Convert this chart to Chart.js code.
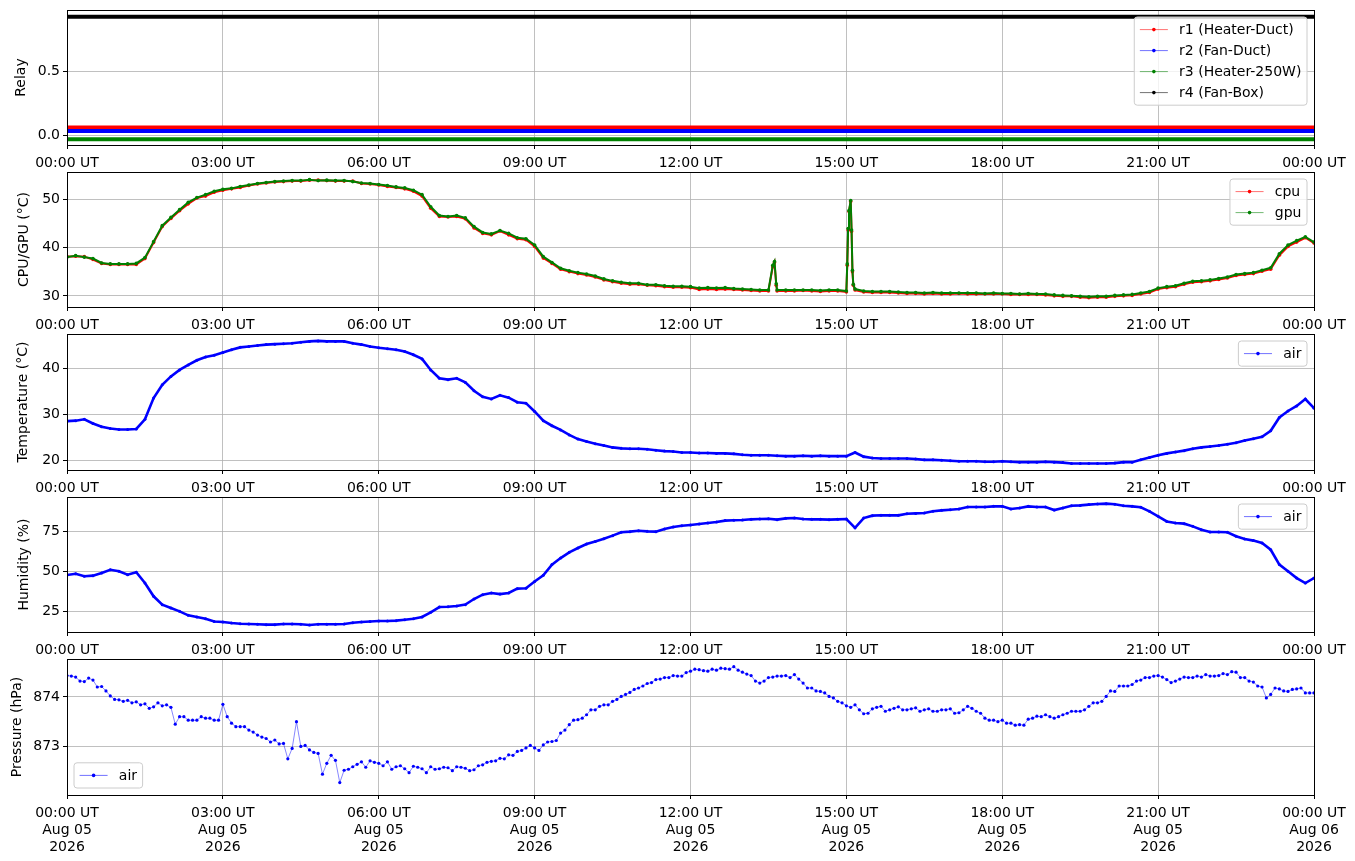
<!DOCTYPE html>
<html>
<head>
<meta charset="utf-8">
<script src="https://cdn.jsdelivr.net/npm/chart.js@4.4.0/dist/chart.umd.min.js"></script>
<style>
  html, body { margin: 0; padding: 0; background: #fff; }
  #wrap { position: relative; width: 1355px; height: 861px; overflow: hidden; }
  #wrap canvas { position: absolute; left: 0; }
</style>
</head>
<body>
<div id="wrap"></div>
<script>
// sample times in minutes after 00:00 UT, Aug 05 2026
const tGrid = [
  0, 10, 20, 30, 40, 50, 60, 70, 80, 90, 100, 110,
  120, 130, 140, 150, 160, 170, 180, 190, 200, 210, 220, 230,
  240, 250, 260, 270, 280, 290, 300, 310, 320, 330, 340, 350,
  360, 370, 380, 390, 400, 410, 420, 430, 440, 450, 460, 470,
  480, 490, 500, 510, 520, 530, 540, 550, 560, 570, 580, 590,
  600, 610, 620, 630, 640, 650, 660, 670, 680, 690, 700, 710,
  720, 730, 740, 750, 760, 770, 780, 790, 800, 810, 820, 830,
  840, 850, 860, 870, 880, 890, 900, 910, 920, 930, 940, 950,
  960, 970, 980, 990, 1000, 1010, 1020, 1030, 1040, 1050, 1060, 1070,
  1080, 1090, 1100, 1110, 1120, 1130, 1140, 1150, 1160, 1170, 1180, 1190,
  1200, 1210, 1220, 1230, 1240, 1250, 1260, 1270, 1280, 1290, 1300, 1310,
  1320, 1330, 1340, 1350, 1360, 1370, 1380, 1390, 1400, 1410, 1420, 1430,
  1440
];

// relay states (offset so the four traces do not overlap)
const tRelay = [0, 1440];
const r1 = [0.065, 0.065];
const r2 = [0.037, 0.037];
const r3 = [-0.027, -0.027];
const r4 = [0.928, 0.928];

// cpu/gpu have extra samples around the two short spikes
const tCpu = [
  0, 10, 20, 30, 40, 50, 60, 70, 80, 90, 100, 110,
  120, 130, 140, 150, 160, 170, 180, 190, 200, 210, 220, 230,
  240, 250, 260, 270, 280, 290, 300, 310, 320, 330, 340, 350,
  360, 370, 380, 390, 400, 410, 420, 430, 440, 450, 460, 470,
  480, 490, 500, 510, 520, 530, 540, 550, 560, 570, 580, 590,
  600, 610, 620, 630, 640, 650, 660, 670, 680, 690, 700, 710,
  720, 730, 740, 750, 760, 770,
  780, 790, 800, 810, 815, 817, 819, 820, 830,
  840, 850, 860, 870, 880, 890,
  900, 901, 902, 903, 905, 906, 907, 908, 910, 920, 930, 940, 950,
  960, 970, 980, 990, 1000, 1010, 1020, 1030, 1040, 1050, 1060, 1070,
  1080, 1090, 1100, 1110, 1120, 1130, 1140, 1150, 1160, 1170, 1180, 1190,
  1200, 1210, 1220, 1230, 1240, 1250, 1260, 1270, 1280, 1290, 1300, 1310,
  1320, 1330, 1340, 1350, 1360, 1370, 1380, 1390, 1400, 1410, 1420, 1430,
  1440
];
const cpu = [
  38.1, 38.2, 38.1, 37.5, 36.7, 36.5,
  36.5, 36.5, 36.5, 37.7, 41.0, 44.3,
  46.0, 47.6, 49.0, 50.2, 50.6, 51.4,
  51.8, 52.1, 52.4, 52.8, 53.1, 53.3,
  53.5, 53.6, 53.7, 53.7, 53.9, 53.9,
  53.8, 53.7, 53.7, 53.7, 53.2, 53.1,
  52.9, 52.6, 52.4, 52.1, 51.6, 50.6,
  48.1, 46.4, 46.3, 46.4, 45.9, 44.0,
  42.9, 42.6, 43.4, 42.6, 41.8, 41.6,
  40.2, 37.8, 36.7, 35.5, 35.0, 34.6,
  34.3, 33.9, 33.3, 32.9, 32.6, 32.4,
  32.4, 32.2, 32.1, 31.9, 31.8, 31.8,
  31.7, 31.3, 31.4, 31.3, 31.4, 31.3,
  31.2, 31.1, 31.0, 31.0, 36.0, 36.9, 32.2, 31.0, 31.0,
  31.0, 31.1, 31.0, 30.9, 31.0, 31.0,
  30.8, 36.3, 43.6, 47.4, 49.5, 43.3, 35.0, 32.2, 31.2, 30.8, 30.7, 30.7, 30.7,
  30.6, 30.5, 30.5, 30.4, 30.5, 30.4,
  30.4, 30.5, 30.4, 30.4, 30.4, 30.4,
  30.4, 30.3, 30.3, 30.3, 30.3, 30.2,
  30.0, 29.9, 29.9, 29.7, 29.6, 29.7,
  29.7, 29.9, 30.0, 30.1, 30.4, 30.7,
  31.4, 31.7, 31.9, 32.4, 32.8, 32.9,
  33.1, 33.4, 33.7, 34.2, 34.4, 34.6,
  35.1, 35.5, 38.4, 40.2, 41.1, 42.0,
  40.9
];
const gpu = [
  38.0, 38.3, 38.0, 37.7, 36.8, 36.6,
  36.6, 36.6, 36.7, 37.9, 41.2, 44.5,
  46.2, 47.8, 49.3, 50.3, 50.9, 51.6,
  52.0, 52.2, 52.6, 52.9, 53.2, 53.4,
  53.6, 53.7, 53.8, 53.8, 54.0, 53.8,
  53.9, 53.8, 53.8, 53.6, 53.3, 53.2,
  53.0, 52.8, 52.5, 52.3, 51.8, 50.9,
  48.4, 46.6, 46.4, 46.6, 46.1, 44.3,
  43.1, 42.8, 43.5, 42.9, 42.0, 41.8,
  40.5, 38.1, 36.9, 35.7, 35.2, 34.8,
  34.5, 34.1, 33.5, 33.1, 32.8, 32.6,
  32.6, 32.3, 32.3, 32.1, 32.0, 32.0,
  31.9, 31.6, 31.7, 31.6, 31.7, 31.5,
  31.4, 31.3, 31.2, 31.2, 36.3, 37.1, 32.5, 31.2, 31.2,
  31.2, 31.2, 31.2, 31.1, 31.2, 31.2,
  31.0, 36.6, 43.9, 47.6, 49.7, 43.6, 35.3, 32.4, 31.4, 31.0, 30.9, 30.9, 30.9,
  30.8, 30.7, 30.7, 30.6, 30.7, 30.6,
  30.6, 30.6, 30.6, 30.6, 30.5, 30.6,
  30.5, 30.5, 30.4, 30.5, 30.4, 30.4,
  30.2, 30.1, 30.0, 29.9, 29.8, 29.9,
  29.9, 30.1, 30.2, 30.3, 30.6, 30.9,
  31.6, 31.9, 32.1, 32.6, 33.0, 33.1,
  33.3, 33.6, 33.9, 34.4, 34.6, 34.8,
  35.3, 35.8, 38.7, 40.5, 41.4, 42.2,
  41.1
];

const airTemp = [
  28.5, 28.6, 28.9, 28.0, 27.3, 26.9,
  26.7, 26.7, 26.8, 28.9, 33.5, 36.4,
  38.2, 39.6, 40.7, 41.7, 42.4, 42.8,
  43.4, 44.0, 44.5, 44.7, 44.9, 45.1,
  45.2, 45.3, 45.4, 45.6, 45.8, 45.9,
  45.8, 45.8, 45.8, 45.4, 45.1, 44.7,
  44.4, 44.2, 44.0, 43.6, 42.9, 42.0,
  39.6, 37.8, 37.5, 37.8, 36.9, 35.1,
  33.8, 33.3, 34.1, 33.6, 32.6, 32.4,
  30.6, 28.6, 27.5, 26.6, 25.5, 24.6,
  24.1, 23.6, 23.2, 22.8, 22.6, 22.5,
  22.5, 22.4, 22.2, 22.0, 21.9, 21.7,
  21.7, 21.6, 21.6, 21.5, 21.5, 21.4,
  21.2, 21.1, 21.1, 21.1, 21.0, 20.9,
  20.9, 21.0, 20.9, 21.0, 20.9, 20.9,
  20.9, 21.7, 20.8, 20.5, 20.4, 20.4,
  20.4, 20.4, 20.3, 20.1, 20.1, 20.0,
  19.9, 19.8, 19.8, 19.8, 19.7, 19.7,
  19.8, 19.7, 19.6, 19.6, 19.6, 19.7,
  19.6, 19.5, 19.3, 19.3, 19.3, 19.3,
  19.3, 19.4, 19.6, 19.6, 20.1, 20.6,
  21.1, 21.5, 21.8, 22.1, 22.5, 22.8,
  23.0, 23.2, 23.5, 23.8, 24.3, 24.7,
  25.1, 26.4, 29.3, 30.7, 31.8, 33.3,
  31.3
];

const airHum = [
  47.5, 48.3, 46.7, 47.1, 48.8, 50.8,
  49.8, 47.7, 49.2, 42.5, 34.2, 29.0,
  26.9, 24.8, 22.3, 21.3, 20.2, 18.5,
  18.1, 17.5, 17.1, 16.9, 16.7, 16.5,
  16.5, 16.9, 16.9, 16.7, 16.3, 16.7,
  16.7, 16.7, 16.9, 17.7, 18.1, 18.5,
  18.8, 18.8, 19.0, 19.6, 20.2, 21.3,
  24.2, 27.5, 27.7, 28.1, 29.0, 32.5,
  35.2, 36.3, 35.6, 36.3, 39.0, 39.2,
  43.5, 47.3, 54.0, 58.1, 61.7, 64.4,
  66.9, 68.5, 70.2, 72.1, 74.2, 74.6,
  75.2, 74.8, 74.6, 76.3, 77.5, 78.3,
  78.8, 79.4, 80.0, 80.6, 81.5, 81.7,
  81.9, 82.3, 82.5, 82.7, 82.1, 82.9,
  83.1, 82.5, 82.3, 82.3, 82.1, 82.3,
  82.5, 77.0, 83.1, 84.6, 84.8, 84.8,
  84.8, 85.8, 86.0, 86.3, 87.3, 87.9,
  88.3, 88.8, 90.0, 90.0, 90.0, 90.4,
  90.4, 88.8, 89.4, 90.4, 90.0, 90.0,
  88.1, 89.4, 90.8, 91.0, 91.5, 91.9,
  92.1, 91.7, 90.8, 90.4, 89.8, 87.3,
  84.2, 81.0, 80.0, 79.6, 77.9, 75.8,
  74.4, 74.4, 74.2, 71.7, 70.0, 69.0,
  67.5, 63.3, 54.0, 49.8, 45.6, 42.5,
  45.6
];

// pressure is sampled more densely (every 5 min)
const tPres = [
  0, 5, 10, 15, 20, 25, 30, 35, 40, 45, 50, 55,
  60, 65, 70, 75, 80, 85, 90, 95, 100, 105, 110, 115,
  120, 125, 130, 135, 140, 145, 150, 155, 160, 165, 170, 175,
  180, 185, 190, 195, 200, 205, 210, 215, 220, 225, 230, 235,
  240, 245, 250, 255, 260, 265, 270, 275, 280, 285, 290, 295,
  300, 305, 310, 315, 320, 325, 330, 335, 340, 345, 350, 355,
  360, 365, 370, 375, 380, 385, 390, 395, 400, 405, 410, 415,
  420, 425, 430, 435, 440, 445, 450, 455, 460, 465, 470, 475,
  480, 485, 490, 495, 500, 505, 510, 515, 520, 525, 530, 535,
  540, 545, 550, 555, 560, 565, 570, 575, 580, 585, 590, 595,
  600, 605, 610, 615, 620, 625, 630, 635, 640, 645, 650, 655,
  660, 665, 670, 675, 680, 685, 690, 695, 700, 705, 710, 715,
  720, 725, 730, 735, 740, 745, 750, 755, 760, 765, 770, 775,
  780, 785, 790, 795, 800, 805, 810, 815, 820, 825, 830, 835,
  840, 845, 850, 855, 860, 865, 870, 875, 880, 885, 890, 895,
  900, 905, 910, 915, 920, 925, 930, 935, 940, 945, 950, 955,
  960, 965, 970, 975, 980, 985, 990, 995, 1000, 1005, 1010, 1015,
  1020, 1025, 1030, 1035, 1040, 1045, 1050, 1055, 1060, 1065, 1070, 1075,
  1080, 1085, 1090, 1095, 1100, 1105, 1110, 1115, 1120, 1125, 1130, 1135,
  1140, 1145, 1150, 1155, 1160, 1165, 1170, 1175, 1180, 1185, 1190, 1195,
  1200, 1205, 1210, 1215, 1220, 1225, 1230, 1235, 1240, 1245, 1250, 1255,
  1260, 1265, 1270, 1275, 1280, 1285, 1290, 1295, 1300, 1305, 1310, 1315,
  1320, 1325, 1330, 1335, 1340, 1345, 1350, 1355, 1360, 1365, 1370, 1375,
  1380, 1385, 1390, 1395, 1400, 1405, 1410, 1415, 1420, 1425, 1430, 1435,
  1440
];
const airPres = [
  874.43, 874.42, 874.40, 874.32, 874.31, 874.38, 874.34, 874.20, 874.21, 874.12, 874.02, 873.95,
  873.94, 873.91, 873.93, 873.88, 873.90, 873.84, 873.86, 873.77, 873.80, 873.88, 873.82, 873.84,
  873.79, 873.45, 873.60, 873.60, 873.53, 873.53, 873.53, 873.60, 873.57, 873.57, 873.53, 873.53,
  873.85, 873.60, 873.47, 873.40, 873.40, 873.40, 873.33, 873.29, 873.23, 873.19, 873.16, 873.09,
  873.13, 873.05, 873.06, 872.75, 872.96, 873.50, 873.00, 873.02, 872.93, 872.88, 872.86, 872.44,
  872.66, 872.82, 872.72, 872.27, 872.52, 872.54, 872.59, 872.64, 872.69, 872.58, 872.71, 872.68,
  872.66, 872.61, 872.69, 872.54, 872.59, 872.61, 872.55, 872.47, 872.60, 872.58, 872.55, 872.47,
  872.59, 872.54, 872.55, 872.58, 872.57, 872.51, 872.59, 872.58, 872.56, 872.51, 872.53, 872.61,
  872.63, 872.68, 872.70, 872.71, 872.76, 872.75, 872.83, 872.82, 872.90, 872.92, 872.97, 873.02,
  872.97, 872.92, 873.03, 873.09, 873.10, 873.12, 873.27, 873.33, 873.44, 873.53, 873.54, 873.57,
  873.64, 873.74, 873.74, 873.81, 873.84, 873.84, 873.91, 873.95, 874.01, 874.05, 874.09, 874.15,
  874.18, 874.22, 874.27, 874.29, 874.35, 874.36, 874.39, 874.39, 874.43, 874.42, 874.42, 874.49,
  874.52, 874.56, 874.55, 874.53, 874.52, 874.56, 874.54, 874.58, 874.57, 874.56, 874.61, 874.54,
  874.50, 874.46, 874.43, 874.32, 874.28, 874.32, 874.39, 874.40, 874.42, 874.42, 874.43, 874.39,
  874.45, 874.36, 874.28, 874.18, 874.18, 874.12, 874.11, 874.08, 874.01, 873.98, 873.91, 873.88,
  873.82, 873.79, 873.84, 873.74, 873.66, 873.67, 873.76, 873.79, 873.81, 873.71, 873.74, 873.77,
  873.80, 873.74, 873.74, 873.76, 873.78, 873.71, 873.74, 873.76, 873.71, 873.71, 873.74, 873.74,
  873.76, 873.67, 873.68, 873.74, 873.81, 873.77, 873.71, 873.67, 873.57, 873.53, 873.53, 873.50,
  873.53, 873.47, 873.47, 873.43, 873.44, 873.43, 873.55, 873.57, 873.61, 873.60, 873.64, 873.60,
  873.57, 873.60, 873.64, 873.67, 873.71, 873.71, 873.71, 873.74, 873.81, 873.88, 873.88, 873.91,
  874.01, 874.12, 874.11, 874.22, 874.22, 874.22, 874.25, 874.32, 874.34, 874.39, 874.39, 874.42,
  874.43, 874.40, 874.35, 874.29, 874.32, 874.36, 874.40, 874.39, 874.39, 874.42, 874.40, 874.45,
  874.42, 874.42, 874.43, 874.47, 874.45, 874.51, 874.50, 874.39, 874.39, 874.32, 874.30, 874.22,
  874.20, 873.98, 874.05, 874.18, 874.16, 874.12, 874.11, 874.15, 874.16, 874.18, 874.08, 874.08,
  874.08
];

// axis ticks
const xTicks = [0, 180, 360, 540, 720, 900, 1080, 1260, 1440];
const xDays = ['Aug 05', 'Aug 05', 'Aug 05', 'Aug 05', 'Aug 05', 'Aug 05', 'Aug 05', 'Aug 05', 'Aug 06'];
const xYear = '2026';
const relayTicks = [0, 0.5];
const cpuTicks = [30, 40, 50];
const tempTicks = [20, 30, 40];
const humTicks = [25, 50, 75];
const presTicks = [873, 874];

const FONT = { family: 'DejaVu Sans', size: 14 };
const PAD_TOP = 14;
const Y_AXIS_W = 67;
const RIGHT_PAD = 41;

const pts = (ts, vs) => ts.map((t, i) => ({ x: t, y: vs[i] }));

const hhmm = v => {
  const m = v % 1440;
  return String(Math.floor(m / 60)).padStart(2, '0') + ':' + String(m % 60).padStart(2, '0') + ' UT';
};

// black box round the plot + a matplotlib-like legend
const framePlugin = {
  id: 'frame',
  afterDraw(chart, args, opts) {
    const { ctx, chartArea: a } = chart;
    ctx.save();
    ctx.strokeStyle = '#000';
    ctx.lineWidth = 1;
    ctx.strokeRect(Math.round(a.left) + 0.5, Math.round(a.top) + 0.5,
      Math.round(a.right - a.left), Math.round(a.bottom - a.top));

    const items = opts.items || [];
    if (items.length) {
      ctx.font = '14px "DejaVu Sans"';
      const tw = Math.max(...items.map(it => ctx.measureText(it.label).width));
      const pad = 5.6, hl = 28, tp = 11.2, row = 14, gap = 7;
      const w = pad * 2 + hl + tp + tw;
      const h = pad * 2 + items.length * row + (items.length - 1) * gap;
      const x = opts.corner === 'll' ? a.left + 7 : a.right - 7 - w;
      const y = opts.corner === 'll' ? a.bottom - 7 - h : a.top + 7;
      ctx.beginPath();
      ctx.roundRect(x, y, w, h, 3);
      ctx.fillStyle = 'rgba(255,255,255,0.8)';
      ctx.fill();
      ctx.strokeStyle = '#cccccc';
      ctx.stroke();
      items.forEach((it, i) => {
        const cy = y + pad + row / 2 + i * (row + gap);
        ctx.globalAlpha = 0.7;
        ctx.strokeStyle = it.color;
        ctx.lineWidth = 0.8;
        ctx.beginPath();
        ctx.moveTo(x + pad, cy);
        ctx.lineTo(x + pad + hl, cy);
        ctx.stroke();
        ctx.globalAlpha = 1;
        ctx.fillStyle = it.color;
        ctx.beginPath();
        ctx.arc(x + pad + hl / 2, cy, 1.8, 0, Math.PI * 2);
        ctx.fill();
        ctx.fillStyle = '#000';
        ctx.textBaseline = 'middle';
        ctx.textAlign = 'left';
        ctx.fillText(it.label, x + pad + hl + tp, cy + 1);
      });
    }
    ctx.restore();
  }
};

function denseLine(label, ts, vs, color, width, radius, order) {
  return {
    label, data: pts(ts, vs), order,
    borderColor: color, borderWidth: width,
    pointRadius: radius, pointBorderWidth: 0,
    pointBackgroundColor: color, tension: 0
  };
}

const panels = [
  {
    top: 10, h: 135, axisH: 27, min: -0.072, max: 0.98, yTicks: relayTicks,
    fmt: v => v.toFixed(1), title: 'Relay', titlePad: 13,
    legend: { corner: 'ur', items: [
      { label: 'r1 (Heater-Duct)', color: '#ff0000' },
      { label: 'r2 (Fan-Duct)', color: '#0000ff' },
      { label: 'r3 (Heater-250W)', color: '#008000' },
      { label: 'r4 (Fan-Box)', color: '#000000' }
    ] },
    datasets: [
      denseLine('r1 (Heater-Duct)', tRelay, r1, '#ff0000', 4, 0, 3),
      denseLine('r2 (Fan-Duct)', tRelay, r2, '#0000ff', 4, 0, 2),
      denseLine('r3 (Heater-250W)', tRelay, r3, '#008000', 4, 0, 1),
      denseLine('r4 (Fan-Box)', tRelay, r4, '#000000', 4, 0, 0)
    ]
  },
  {
    top: 172, h: 135, axisH: 27, min: 27.7, max: 55.58, yTicks: cpuTicks,
    fmt: v => String(v), title: 'CPU/GPU (°C)', titlePad: 16,
    legend: { corner: 'ur', items: [
      { label: 'cpu', color: '#ff0000' },
      { label: 'gpu', color: '#008000' }
    ] },
    datasets: [
      denseLine('cpu', tCpu, cpu, '#ff0000', 2, 1.8, 1),
      denseLine('gpu', tCpu, gpu, '#008000', 2, 1.8, 0)
    ]
  },
  {
    top: 334, h: 136, axisH: 27, min: 17.9, max: 47.4, yTicks: tempTicks,
    fmt: v => String(v), title: 'Temperature (°C)', titlePad: 14.5,
    legend: { corner: 'ur', items: [{ label: 'air', color: '#0000ff' }] },
    datasets: [denseLine('air', tGrid, airTemp, '#0000ff', 2.6, 1.5, 0)]
  },
  {
    top: 497, h: 135, axisH: 27, min: 11.9, max: 96.25, yTicks: humTicks,
    fmt: v => String(v), title: 'Humidity (%)', titlePad: 16.3,
    legend: { corner: 'ur', items: [{ label: 'air', color: '#0000ff' }] },
    datasets: [denseLine('air', tGrid, airHum, '#0000ff', 2.6, 1.5, 0)]
  },
  {
    top: 659, h: 136, axisH: 66, min: 872.02, max: 874.765, yTicks: presTicks,
    fmt: v => String(v), title: 'Pressure (hPa)', titlePad: 9,
    xFmt: (v, i) => [hhmm(v), xDays[i], xYear],
    legend: { corner: 'll', items: [{ label: 'air', color: '#0000ff' }] },
    datasets: [{
      label: 'air', data: pts(tPres, airPres), order: 0,
      borderColor: 'rgba(0,0,255,0.6)', borderWidth: 0.8,
      pointRadius: 1.6, pointBorderWidth: 0, pointBackgroundColor: '#0000ff', tension: 0
    }]
  }
];

const wrap = document.getElementById('wrap');
const gridOpts = { color: '#b0b0b0', lineWidth: 0.8, tickColor: '#000', tickWidth: 1, tickLength: 4 };

panels.forEach(p => {
  const c = document.createElement('canvas');
  const h = PAD_TOP + p.h + p.axisH;
  c.width = 1355;
  c.height = h;
  c.style.width = '1355px';
  c.style.height = h + 'px';
  c.style.top = (p.top - PAD_TOP) + 'px';
  wrap.appendChild(c);

  new Chart(c, {
    type: 'line',
    data: { datasets: p.datasets },
    plugins: [framePlugin],
    options: {
      responsive: false,
      animation: false,
      devicePixelRatio: 1,
      layout: { padding: { left: 0, right: RIGHT_PAD, top: PAD_TOP, bottom: 0 } },
      plugins: {
        legend: { display: false },
        tooltip: { enabled: false },
        frame: p.legend
      },
      scales: {
        x: {
          type: 'linear', min: 0, max: 1440,
          afterFit: s => { s.height = p.axisH; },
          afterBuildTicks: s => { s.ticks = xTicks.map(v => ({ value: v })); },
          ticks: { autoSkip: false, maxRotation: 0, font: FONT, color: '#000', padding: 6,
                   callback: p.xFmt || (v => hhmm(v)) },
          grid: gridOpts,
          border: { display: false }
        },
        y: {
          min: p.min, max: p.max,
          afterFit: s => { s.width = Y_AXIS_W; },
          afterBuildTicks: s => { s.ticks = p.yTicks.map(v => ({ value: v })); },
          ticks: { font: FONT, color: '#000', padding: 3, callback: p.fmt },
          grid: gridOpts,
          border: { display: false },
          title: { display: true, text: p.title, font: FONT, color: '#000',
                   padding: { top: p.titlePad, bottom: 0 } }
        }
      }
    }
  });
});
</script>
</body>
</html>
